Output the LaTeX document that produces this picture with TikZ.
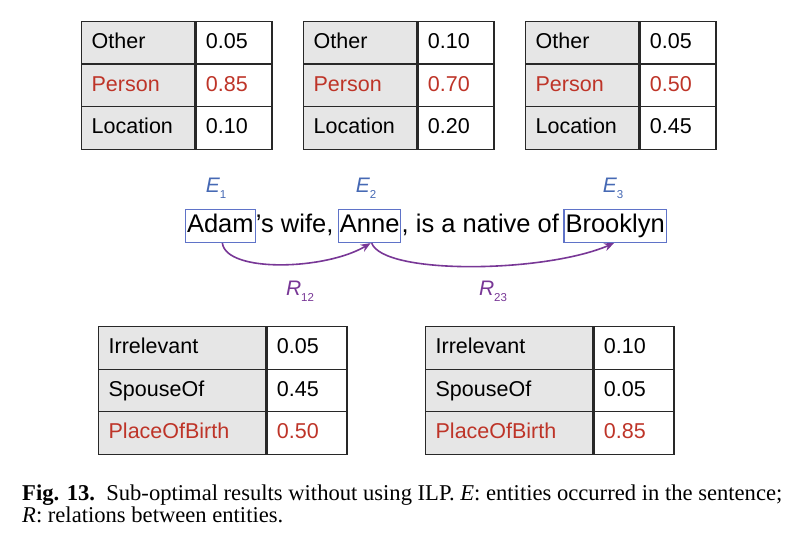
\documentclass[tikz,border=0pt]{standalone}
\usepackage{fontspec}
\setmainfont{Liberation Serif}
\newfontfamily\sfont{Liberation Sans}
\usetikzlibrary{arrows.meta}
\definecolor{redtxt}{RGB}{190,52,40}
\definecolor{linec}{RGB}{40,40,40}
\definecolor{cellgray}{RGB}{230,230,230}
\definecolor{eblue}{RGB}{70,105,180}
\definecolor{boxblue}{RGB}{95,115,200}
\definecolor{relpurple}{RGB}{120,55,150}
\newcommand\cellrow[8]{%
  \node[labcell, text width=#4pt, #8] (#1l) at (#2,#3) {#6};
  \node[valcell, text width=#5pt, #8] (#1v) at (#1l.north east) {#7};}
\tikzset{
  cellbase/.style={draw=linec, line width=1.3pt, minimum height=42.5pt,
    inner xsep=10pt, inner ysep=0pt, align=left, anchor=north west,
    font=\sfont\fontsize{21.5}{24}\selectfont, text height=15.5pt, text depth=4pt},
  labcell/.style={cellbase, fill=cellgray},
  valcell/.style={cellbase, fill=white},
  hot/.style={text=redtxt},
  sent/.style={font=\sfont\fontsize{25.5}{28}\selectfont, text height=19pt, text depth=5.5pt, inner ysep=4.25pt},
  ebox/.style={sent, draw=boxblue, line width=1.1pt, inner xsep=1.5pt},
  plain/.style={sent, inner xsep=0pt},
  elab/.style={text=eblue, font=\sfont\fontsize{21}{22}\selectfont\itshape, inner sep=0pt},
  rlab/.style={text=relpurple, font=\sfont\fontsize{21}{22}\selectfont\itshape, inner sep=0pt},
  rel/.style={draw=relpurple, line width=1.6pt, -{Stealth[length=10pt,width=8pt]}},
  captext/.style={anchor=base west, inner sep=0pt, font=\fontsize{22.6}{24}\selectfont},
}
\newcommand\sub[1]{\raisebox{-6pt}{\upshape\fontsize{11.5}{12}\selectfont #1}}
\begin{document}
\begin{tikzpicture}[x=1pt,y=-1pt]
\useasboundingbox (0,0) rectangle (793,535);
% top tables
\cellrow{a1}{81}{21}{93}{56}{Other}{0.05}{}
\cellrow{a2}{81}{63.5}{93}{56}{Person}{0.85}{hot}
\cellrow{a3}{81}{106}{93}{56}{Location}{0.10}{}
\cellrow{b1}{303}{21}{93}{56}{Other}{0.10}{}
\cellrow{b2}{303}{63.5}{93}{56}{Person}{0.70}{hot}
\cellrow{b3}{303}{106}{93}{56}{Location}{0.20}{}
\cellrow{c1}{525}{21}{93}{56}{Other}{0.05}{}
\cellrow{c2}{525}{63.5}{93}{56}{Person}{0.50}{hot}
\cellrow{c3}{525}{106}{93}{56}{Location}{0.45}{}
% sentence
\node[ebox, anchor=north west] (adam) at (185,209) {Adam};
\node[plain, anchor=west] (s1) at (adam.east) {’s wife,\,};
\node[ebox, anchor=west] (anne) at (s1.east) {Anne};
\node[plain, anchor=west] (s2) at (anne.east) {, is a native of\,};
\node[ebox, anchor=west] (brook) at (s2.east) {Brooklyn};
% entity labels
\node[elab] (e1) at (216,188) {E\sub{1}};
\node[elab] (e2) at (366,188) {E\sub{2}};
\node[elab] (e3) at (613,188) {E\sub{3}};
% relations
\draw[rel] ([xshift=2pt]adam.south) .. controls +(4,30) and +(-45,27) .. ([xshift=1pt]anne.south);
\draw[rel] ([xshift=2pt]anne.south) .. controls +(12,32) and +(-70,30) .. ([xshift=-1pt]brook.south);
\node[rlab] (r12) at (300,291) {R\sub{12}};
\node[rlab] (r23) at (493,291) {R\sub{23}};
% bottom tables
\cellrow{d1}{98}{326}{147}{60}{Irrelevant}{0.05}{}
\cellrow{d2}{98}{368.5}{147}{60}{SpouseOf}{0.45}{}
\cellrow{d3}{98}{411}{147}{60}{PlaceOfBirth}{0.50}{hot}
\cellrow{f1}{425}{326}{147}{60}{Irrelevant}{0.10}{}
\cellrow{f2}{425}{368.5}{147}{60}{SpouseOf}{0.05}{}
\cellrow{f3}{425}{411}{147}{60}{PlaceOfBirth}{0.85}{hot}
% caption
\node[captext] (cap1) at (22,500)
  {\textbf{Fig. 13.}\enspace Sub-optimal results without using ILP. \textit{E}: entities occurred in the sentence;};
\node[captext] (cap2) at (22,522) {\textit{R}: relations between entities.};
\end{tikzpicture}
\end{document}
